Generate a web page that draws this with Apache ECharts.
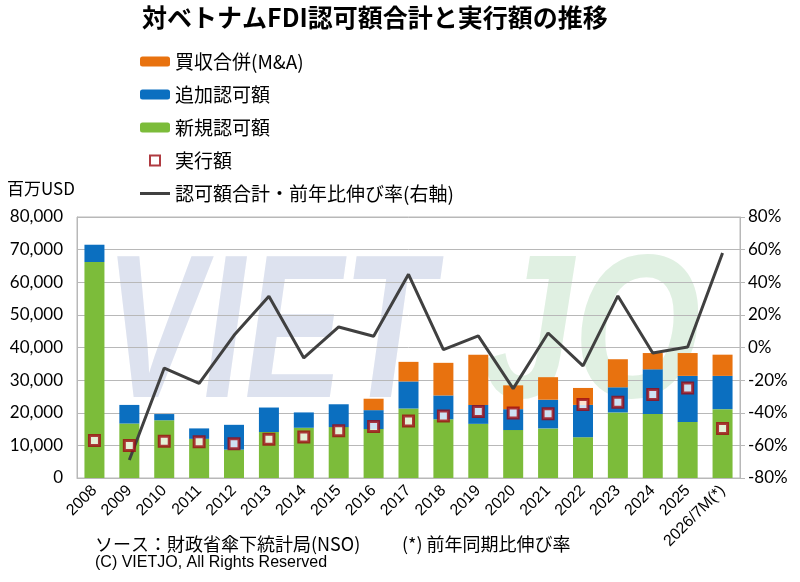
<!DOCTYPE html>
<html>
<head>
<meta charset="utf-8">
<script src="https://cdn.jsdelivr.net/npm/echarts@6/dist/echarts.min.js"></script>
<style>
html, body { margin: 0; padding: 0; background: #fff; }
#main { width: 800px; height: 582px; }
</style>
</head>
<body>
<div id="main"></div>
<script>
var chartDom = document.getElementById('main');
var myChart = echarts.init(chartDom);
var option;

var JP = '"Noto Sans CJK JP", sans-serif';
var NUM = 'Lato, "Open Sans", sans-serif';

// 年 (2026 は 1-7月)
var years = ['2008', '2009', '2010', '2011', '2012', '2013', '2014', '2015', '2016', '2017',
    '2018', '2019', '2020', '2021', '2022', '2023', '2024', '2025', '2026/7M(*)'];

// 百万USD
var newReg = [66200, 16700, 17700, 12000, 8700, 14100, 15400, 15600, 15000, 21300,
    18000, 16600, 14700, 15200, 12500, 20100, 19600, 17200, 21100];
var addReg = [5300, 5700, 1900, 3200, 7600, 7500, 4700, 7000, 5800, 8300,
    7300, 5800, 6400, 8800, 9900, 7700, 13700, 14100, 10200];
var mna = [0, 0, 0, 0, 0, 0, 0, 0, 3500, 6000,
    10000, 15400, 7300, 6900, 5200, 8600, 5000, 7000, 6500];
var disbursed = [11500, 10000, 11300, 11100, 10500, 11900, 12600, 14500, 15800, 17500,
    19000, 20400, 19900, 19700, 22500, 23200, 25600, 27600, 15200];

// 認可額合計・前年比伸び率 (%)
var growth = [null, -69, -12.6, -22, 7.5, 31.4, -6.4, 12.6, 6.9, 44.9,
    -1.3, 7.1, -25.2, 8.9, -11.3, 31.6, -3.4, 0.3, 57.9];

option = {
    backgroundColor: '#fff',
    animation: false,
    title: {
        text: '対ベトナムFDI認可額合計と実行額の推移',
        left: 137,
        top: 0,
        textStyle: { fontFamily: JP, fontSize: 25, fontWeight: 'bold', color: '#000' }
    },
    legend: {
        orient: 'vertical',
        left: 135,
        top: 47,
        itemWidth: 30,
        itemHeight: 10,
        itemGap: 14,
        data: [
            { name: '買収合併(M&A)' },
            { name: '追加認可額' },
            { name: '新規認可額' },
            { name: '実行額', icon: 'path://M0,0H10V10H0Z' },
            { name: '認可額合計・前年比伸び率(右軸)', icon: 'path://M0,0H30V3H0Z' }
        ],
        textStyle: { fontFamily: JP, fontSize: 19, color: '#000' }
    },
    graphic: [
        { type: 'text', left: 105, top: 238, z: -10, scaleX: 0.72,
          style: { text: 'VIET', fontSize: 205, fontStyle: 'italic', fontWeight: 'bold',
                   fontFamily: 'Liberation Sans', fill: '#dde2ef' } },
        { type: 'text', left: 482, top: 238, z: -10, scaleX: 0.8,
          style: { text: 'JO', fontSize: 205, fontStyle: 'italic', fontWeight: 'bold',
                   fontFamily: 'Liberation Sans', fill: '#e0f0e2' } },
        { type: 'text', left: 7, top: 180,
          style: { text: '百万USD', fontFamily: JP, fontSize: 17, fill: '#000' } },
        { type: 'text', left: 95, top: 535,
          style: { text: 'ソース：財政省傘下統計局(NSO)', fontFamily: JP, fontSize: 18, fill: '#000' } },
        { type: 'text', left: 402, top: 535,
          style: { text: '(*) 前年同期比伸び率', fontFamily: JP, fontSize: 18, fill: '#000' } },
        { type: 'text', left: 95, top: 555,
          style: { text: '(C) VIETJO, All Rights Reserved', fontFamily: 'Liberation Sans', fontSize: 16, fill: '#000' } }
    ],
    grid: {
        left: 77,
        right: 60,
        top: 217,
        bottom: 104,
        show: true,
        borderColor: '#b8b8b8',
        borderWidth: 1
    },
    xAxis: {
        type: 'category',
        data: years,
        axisTick: { show: false },
        axisLine: { lineStyle: { color: '#b8b8b8' } },
        axisLabel: { rotate: 45, interval: 0, margin: 10, fontFamily: 'Liberation Sans', fontSize: 16, color: '#000' }
    },
    yAxis: [{
        type: 'value',
        min: 0,
        max: 80000,
        interval: 10000,
        axisLine: { show: true, lineStyle: { color: '#b8b8b8' } },
        axisTick: { show: false },
        splitLine: { lineStyle: { color: '#b8b8b8' } },
        axisLabel: {
            fontFamily: NUM, fontSize: 17, color: '#000', margin: 14,
            formatter: function (v) { return v.toLocaleString('en-US'); }
        }
    }, {
        type: 'value',
        min: -80,
        max: 80,
        interval: 20,
        axisLine: { show: true, lineStyle: { color: '#b8b8b8' } },
        axisTick: { show: true, length: 5, lineStyle: { color: '#b8b8b8' } },
        splitLine: { show: false },
        axisLabel: { fontFamily: NUM, fontSize: 17, color: '#000', margin: 8, formatter: '{value}%' }
    }],
    series: [{
        name: '新規認可額',
        type: 'bar',
        stack: 'fdi',
        barWidth: 20,
        data: newReg,
        itemStyle: { color: '#7cbc3a' }
    }, {
        name: '追加認可額',
        type: 'bar',
        stack: 'fdi',
        data: addReg,
        itemStyle: { color: '#0b6fc0' }
    }, {
        name: '買収合併(M&A)',
        type: 'bar',
        stack: 'fdi',
        data: mna,
        itemStyle: { color: '#e8720f' }
    }, {
        name: '実行額',
        type: 'scatter',
        data: disbursed,
        symbol: 'rect',
        symbolSize: 10,
        z: 5,
        itemStyle: { color: '#ffffff', borderColor: '#9c0a12', borderWidth: 3 }
    }, {
        name: '認可額合計・前年比伸び率(右軸)',
        type: 'line',
        yAxisIndex: 1,
        data: growth,
        symbol: 'none',
        z: 4,
        lineStyle: { color: '#404040', width: 3 },
        itemStyle: { color: '#404040' }
    }]
};

option && myChart.setOption(option);
</script>
</body>
</html>
